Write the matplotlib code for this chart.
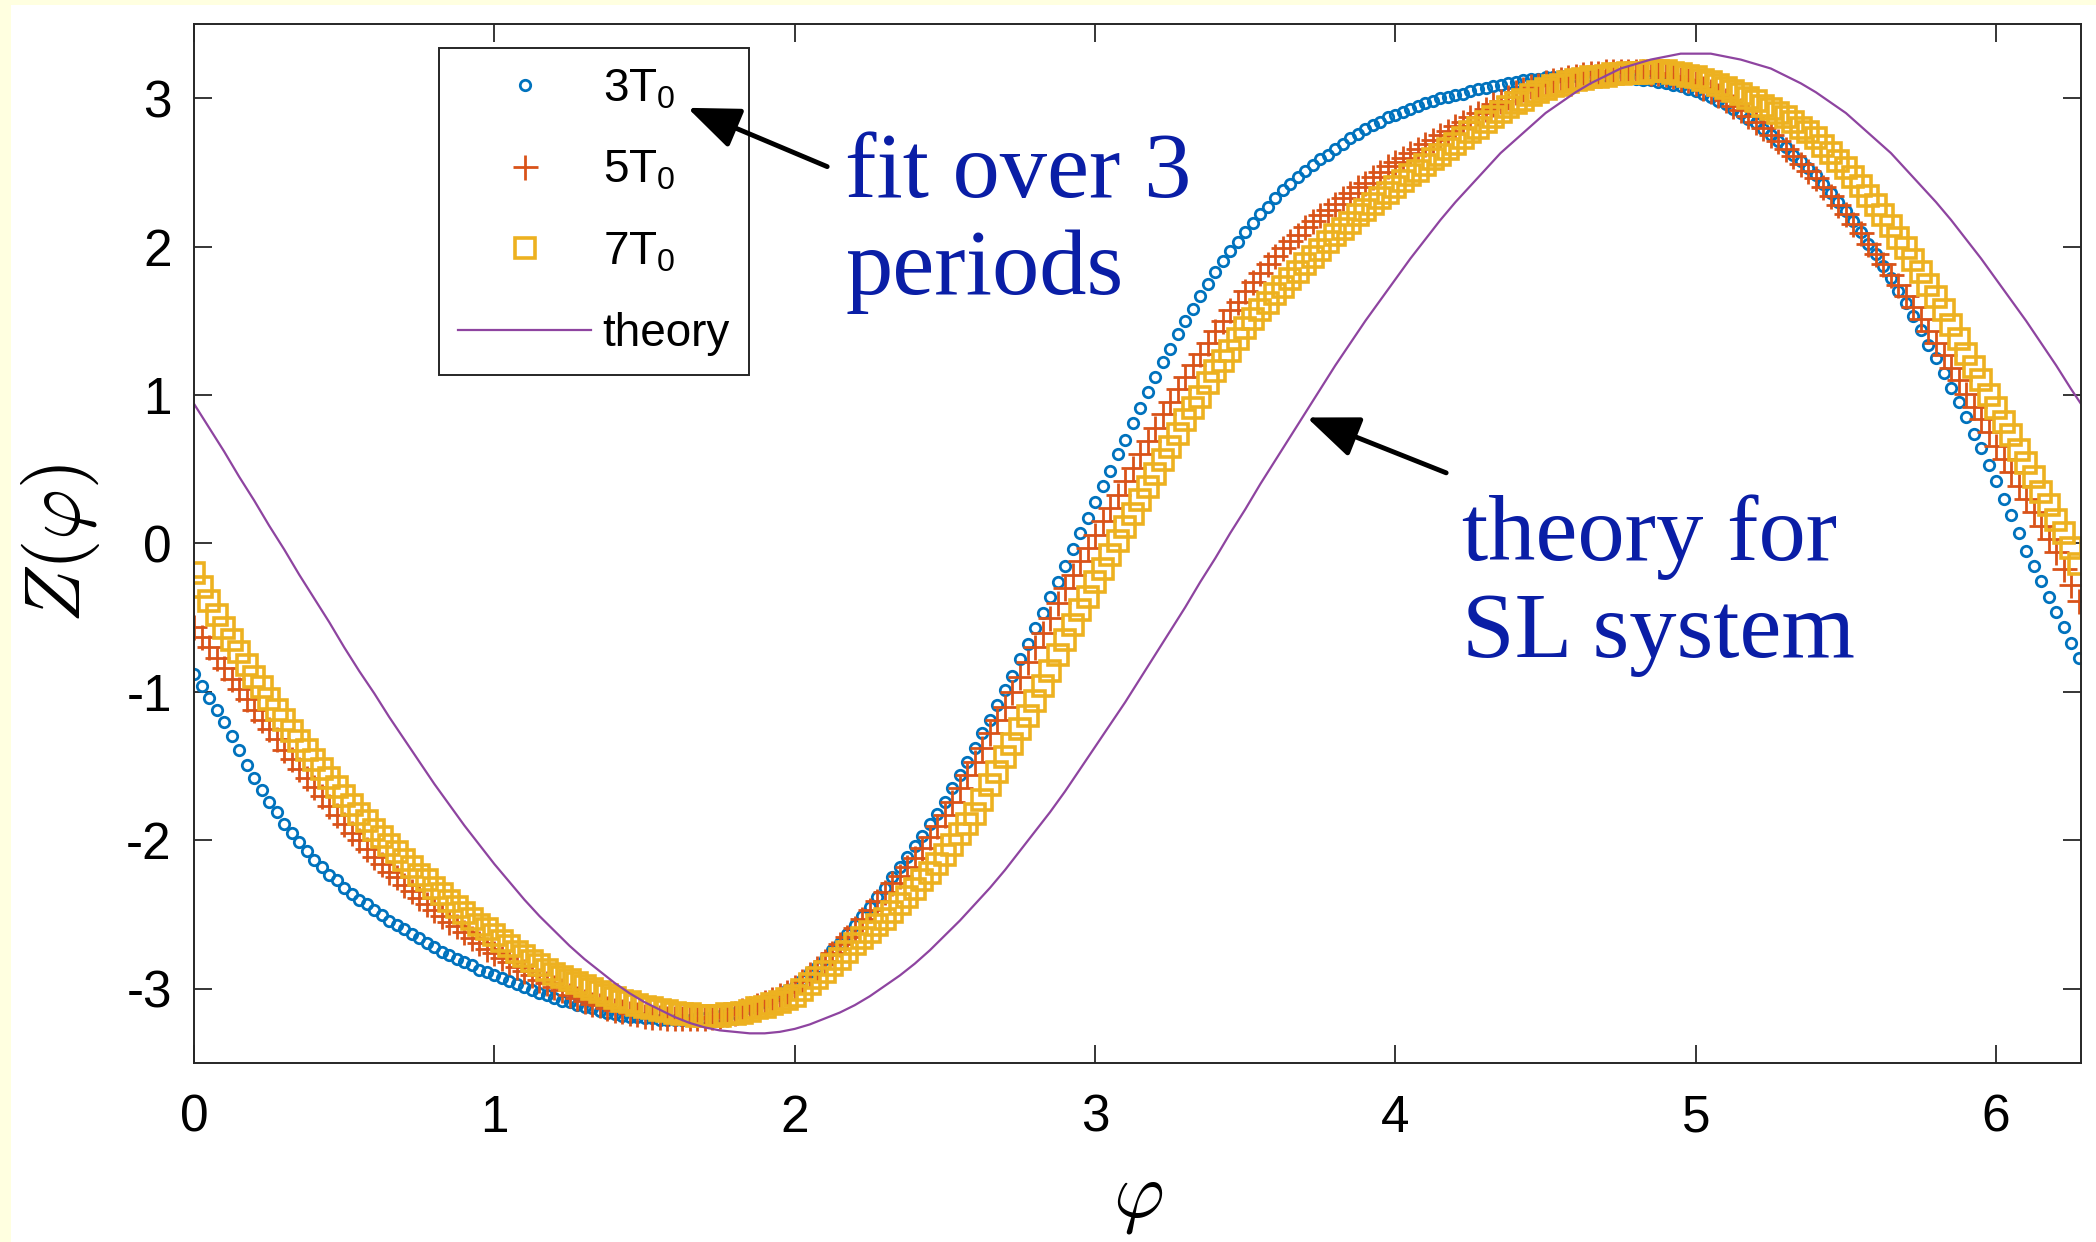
import numpy as np
import matplotlib
matplotlib.use('Agg')
import matplotlib.pyplot as plt
from matplotlib.patches import Rectangle

plt.rcParams['font.family'] = ['Liberation Sans', 'DejaVu Sans']
plt.rcParams['mathtext.fontset'] = 'cm'
plt.rcParams['axes.unicode_minus'] = False

# phase samples (rad) shared by the three fitted series
phase = [
    0.000, 0.025, 0.050, 0.075, 0.100, 0.125, 0.150, 0.175,
    0.200, 0.225, 0.250, 0.275, 0.300, 0.325, 0.350, 0.375,
    0.400, 0.425, 0.450, 0.475, 0.500, 0.525, 0.550, 0.575,
    0.600, 0.625, 0.650, 0.675, 0.700, 0.725, 0.750, 0.775,
    0.800, 0.825, 0.850, 0.875, 0.900, 0.925, 0.950, 0.975,
    1.000, 1.025, 1.050, 1.075, 1.100, 1.125, 1.150, 1.175,
    1.200, 1.225, 1.250, 1.275, 1.300, 1.325, 1.350, 1.375,
    1.400, 1.425, 1.450, 1.475, 1.500, 1.525, 1.550, 1.575,
    1.600, 1.625, 1.650, 1.675, 1.700, 1.725, 1.750, 1.775,
    1.800, 1.825, 1.850, 1.875, 1.900, 1.925, 1.950, 1.975,
    2.000, 2.025, 2.050, 2.075, 2.100, 2.125, 2.150, 2.175,
    2.200, 2.225, 2.250, 2.275, 2.300, 2.325, 2.350, 2.375,
    2.400, 2.425, 2.450, 2.475, 2.500, 2.525, 2.550, 2.575,
    2.600, 2.625, 2.650, 2.675, 2.700, 2.725, 2.750, 2.775,
    2.800, 2.825, 2.850, 2.875, 2.900, 2.925, 2.950, 2.975,
    3.000, 3.025, 3.050, 3.075, 3.100, 3.125, 3.150, 3.175,
    3.200, 3.225, 3.250, 3.275, 3.300, 3.325, 3.350, 3.375,
    3.400, 3.425, 3.450, 3.475, 3.500, 3.525, 3.550, 3.575,
    3.600, 3.625, 3.650, 3.675, 3.700, 3.725, 3.750, 3.775,
    3.800, 3.825, 3.850, 3.875, 3.900, 3.925, 3.950, 3.975,
    4.000, 4.025, 4.050, 4.075, 4.100, 4.125, 4.150, 4.175,
    4.200, 4.225, 4.250, 4.275, 4.300, 4.325, 4.350, 4.375,
    4.400, 4.425, 4.450, 4.475, 4.500, 4.525, 4.550, 4.575,
    4.600, 4.625, 4.650, 4.675, 4.700, 4.725, 4.750, 4.775,
    4.800, 4.825, 4.850, 4.875, 4.900, 4.925, 4.950, 4.975,
    5.000, 5.025, 5.050, 5.075, 5.100, 5.125, 5.150, 5.175,
    5.200, 5.225, 5.250, 5.275, 5.300, 5.325, 5.350, 5.375,
    5.400, 5.425, 5.450, 5.475, 5.500, 5.525, 5.550, 5.575,
    5.600, 5.625, 5.650, 5.675, 5.700, 5.725, 5.750, 5.775,
    5.800, 5.825, 5.850, 5.875, 5.900, 5.925, 5.950, 5.975,
    6.000, 6.025, 6.050, 6.075, 6.100, 6.125, 6.150, 6.175,
    6.200, 6.225, 6.250, 6.275,
]

# fit over 3 periods
z_3t0 = [
    -0.88, -0.96, -1.04, -1.12, -1.20, -1.30, -1.39, -1.49,
    -1.58, -1.66, -1.74, -1.81, -1.89, -1.95, -2.01, -2.07,
    -2.13, -2.18, -2.23, -2.27, -2.32, -2.36, -2.40, -2.43,
    -2.47, -2.50, -2.54, -2.57, -2.60, -2.63, -2.66, -2.69,
    -2.72, -2.75, -2.77, -2.80, -2.82, -2.84, -2.87, -2.89,
    -2.91, -2.93, -2.95, -2.97, -2.99, -3.01, -3.03, -3.04,
    -3.06, -3.08, -3.09, -3.11, -3.12, -3.13, -3.15, -3.16,
    -3.17, -3.18, -3.19, -3.19, -3.20, -3.20, -3.21, -3.21,
    -3.21, -3.21, -3.21, -3.20, -3.20, -3.19, -3.18, -3.17,
    -3.16, -3.14, -3.13, -3.11, -3.09, -3.06, -3.04, -3.01,
    -2.98, -2.94, -2.89, -2.85, -2.80, -2.74, -2.69, -2.63,
    -2.57, -2.51, -2.45, -2.38, -2.32, -2.25, -2.18, -2.11,
    -2.04, -1.97, -1.89, -1.82, -1.74, -1.65, -1.56, -1.47,
    -1.38, -1.28, -1.19, -1.09, -0.99, -0.89, -0.78, -0.68,
    -0.57, -0.47, -0.36, -0.26, -0.15, -0.04, 0.07, 0.17,
    0.28, 0.39, 0.49, 0.60, 0.70, 0.81, 0.91, 1.02,
    1.12, 1.22, 1.31, 1.41, 1.50, 1.58, 1.67, 1.75,
    1.83, 1.90, 1.97, 2.03, 2.10, 2.16, 2.22, 2.27,
    2.33, 2.38, 2.42, 2.47, 2.51, 2.55, 2.59, 2.62,
    2.66, 2.69, 2.73, 2.76, 2.79, 2.82, 2.84, 2.87,
    2.89, 2.91, 2.93, 2.95, 2.97, 2.98, 3.00, 3.01,
    3.02, 3.03, 3.05, 3.06, 3.07, 3.08, 3.09, 3.10,
    3.11, 3.12, 3.13, 3.13, 3.14, 3.14, 3.15, 3.15,
    3.15, 3.15, 3.15, 3.15, 3.15, 3.15, 3.14, 3.14,
    3.13, 3.12, 3.12, 3.11, 3.10, 3.09, 3.08, 3.06,
    3.05, 3.03, 3.01, 2.98, 2.96, 2.93, 2.90, 2.86,
    2.83, 2.79, 2.75, 2.71, 2.67, 2.62, 2.58, 2.53,
    2.48, 2.42, 2.36, 2.30, 2.24, 2.17, 2.10, 2.02,
    1.95, 1.87, 1.79, 1.70, 1.62, 1.53, 1.44, 1.34,
    1.25, 1.15, 1.05, 0.95, 0.85, 0.74, 0.64, 0.53,
    0.42, 0.30, 0.19, 0.07, -0.05, -0.15, -0.25, -0.36,
    -0.46, -0.56, -0.67, -0.77,
]

# fit over 5 periods
z_5t0 = [
    -0.56, -0.63, -0.70, -0.77, -0.84, -0.91, -0.98, -1.05,
    -1.12, -1.19, -1.25, -1.32, -1.39, -1.45, -1.52, -1.58,
    -1.64, -1.70, -1.77, -1.83, -1.89, -1.95, -2.00, -2.06,
    -2.11, -2.16, -2.21, -2.25, -2.30, -2.34, -2.39, -2.43,
    -2.47, -2.51, -2.55, -2.58, -2.62, -2.66, -2.69, -2.73,
    -2.76, -2.79, -2.82, -2.85, -2.88, -2.91, -2.94, -2.96,
    -2.99, -3.01, -3.04, -3.06, -3.08, -3.10, -3.11, -3.13,
    -3.14, -3.15, -3.16, -3.17, -3.18, -3.19, -3.19, -3.20,
    -3.20, -3.20, -3.20, -3.20, -3.20, -3.19, -3.18, -3.17,
    -3.16, -3.14, -3.13, -3.11, -3.09, -3.07, -3.04, -3.02,
    -2.99, -2.95, -2.90, -2.86, -2.81, -2.76, -2.70, -2.65,
    -2.59, -2.53, -2.47, -2.41, -2.35, -2.29, -2.24, -2.18,
    -2.12, -2.05, -1.98, -1.90, -1.83, -1.74, -1.65, -1.56,
    -1.47, -1.38, -1.28, -1.19, -1.10, -1.00, -0.90, -0.80,
    -0.70, -0.60, -0.50, -0.40, -0.30, -0.21, -0.12, -0.03,
    0.06, 0.15, 0.24, 0.33, 0.42, 0.51, 0.60, 0.69,
    0.78, 0.87, 0.95, 1.04, 1.12, 1.20, 1.28, 1.35,
    1.43, 1.50, 1.57, 1.63, 1.70, 1.76, 1.82, 1.88,
    1.94, 1.99, 2.04, 2.08, 2.13, 2.17, 2.21, 2.25,
    2.29, 2.33, 2.36, 2.40, 2.43, 2.47, 2.50, 2.54,
    2.57, 2.60, 2.63, 2.66, 2.69, 2.72, 2.75, 2.78,
    2.81, 2.84, 2.87, 2.90, 2.93, 2.96, 2.98, 3.01,
    3.04, 3.06, 3.08, 3.09, 3.11, 3.12, 3.13, 3.14,
    3.15, 3.16, 3.17, 3.17, 3.18, 3.18, 3.18, 3.18,
    3.18, 3.18, 3.17, 3.17, 3.16, 3.15, 3.13, 3.12,
    3.10, 3.07, 3.05, 3.02, 2.99, 2.95, 2.92, 2.88,
    2.84, 2.80, 2.75, 2.71, 2.66, 2.61, 2.56, 2.51,
    2.46, 2.40, 2.34, 2.28, 2.22, 2.15, 2.09, 2.02,
    1.95, 1.88, 1.81, 1.74, 1.67, 1.59, 1.51, 1.43,
    1.35, 1.27, 1.18, 1.10, 1.01, 0.92, 0.84, 0.75,
    0.66, 0.57, 0.48, 0.39, 0.30, 0.21, 0.12, 0.03,
    -0.06, -0.17, -0.28, -0.39,
]

# fit over 7 periods
z_7t0 = [
    -0.20, -0.29, -0.39, -0.48, -0.57, -0.65, -0.73, -0.82,
    -0.90, -0.97, -1.05, -1.12, -1.19, -1.26, -1.33, -1.39,
    -1.46, -1.52, -1.58, -1.64, -1.70, -1.76, -1.82, -1.87,
    -1.93, -1.98, -2.03, -2.08, -2.13, -2.18, -2.23, -2.27,
    -2.32, -2.36, -2.41, -2.45, -2.49, -2.53, -2.57, -2.60,
    -2.64, -2.68, -2.71, -2.75, -2.78, -2.81, -2.84, -2.87,
    -2.90, -2.92, -2.94, -2.96, -2.98, -3.00, -3.02, -3.04,
    -3.06, -3.08, -3.09, -3.11, -3.12, -3.13, -3.14, -3.15,
    -3.16, -3.17, -3.17, -3.18, -3.18, -3.18, -3.18, -3.17,
    -3.17, -3.16, -3.15, -3.13, -3.12, -3.10, -3.09, -3.07,
    -3.05, -3.01, -2.97, -2.93, -2.89, -2.84, -2.80, -2.75,
    -2.70, -2.66, -2.62, -2.57, -2.53, -2.48, -2.43, -2.38,
    -2.33, -2.27, -2.22, -2.16, -2.10, -2.03, -1.96, -1.89,
    -1.82, -1.73, -1.63, -1.54, -1.44, -1.35, -1.25, -1.16,
    -1.06, -0.96, -0.86, -0.75, -0.65, -0.55, -0.45, -0.36,
    -0.26, -0.17, -0.08, 0.02, 0.11, 0.20, 0.29, 0.38,
    0.47, 0.56, 0.65, 0.74, 0.83, 0.91, 0.99, 1.08,
    1.16, 1.23, 1.30, 1.38, 1.45, 1.51, 1.57, 1.62,
    1.68, 1.73, 1.78, 1.83, 1.88, 1.93, 1.98, 2.03,
    2.08, 2.12, 2.16, 2.21, 2.25, 2.29, 2.33, 2.36,
    2.40, 2.44, 2.48, 2.51, 2.55, 2.59, 2.62, 2.66,
    2.69, 2.73, 2.77, 2.80, 2.84, 2.87, 2.91, 2.94,
    2.97, 2.99, 3.02, 3.04, 3.06, 3.08, 3.09, 3.11,
    3.12, 3.13, 3.14, 3.14, 3.15, 3.16, 3.16, 3.17,
    3.17, 3.17, 3.18, 3.18, 3.18, 3.17, 3.16, 3.15,
    3.14, 3.12, 3.11, 3.09, 3.07, 3.05, 3.03, 3.00,
    2.98, 2.95, 2.93, 2.90, 2.87, 2.84, 2.80, 2.77,
    2.73, 2.68, 2.63, 2.58, 2.53, 2.47, 2.41, 2.34,
    2.28, 2.21, 2.14, 2.06, 1.99, 1.91, 1.83, 1.74,
    1.66, 1.57, 1.47, 1.38, 1.28, 1.19, 1.10, 1.00,
    0.91, 0.82, 0.73, 0.63, 0.54, 0.45, 0.35, 0.26,
    0.16, 0.07, -0.03, -0.14,
]

# theoretical PRC of the Stuart-Landau system
theory_phase = [
    0.00, 0.05, 0.10, 0.15, 0.20, 0.25, 0.30, 0.35, 0.40, 0.45,
    0.50, 0.55, 0.60, 0.65, 0.70, 0.75, 0.80, 0.85, 0.90, 0.95,
    1.00, 1.05, 1.10, 1.15, 1.20, 1.25, 1.30, 1.35, 1.40, 1.45,
    1.50, 1.55, 1.60, 1.65, 1.70, 1.75, 1.80, 1.85, 1.90, 1.95,
    2.00, 2.05, 2.10, 2.15, 2.20, 2.25, 2.30, 2.35, 2.40, 2.45,
    2.50, 2.55, 2.60, 2.65, 2.70, 2.75, 2.80, 2.85, 2.90, 2.95,
    3.00, 3.05, 3.10, 3.15, 3.20, 3.25, 3.30, 3.35, 3.40, 3.45,
    3.50, 3.55, 3.60, 3.65, 3.70, 3.75, 3.80, 3.85, 3.90, 3.95,
    4.00, 4.05, 4.10, 4.15, 4.20, 4.25, 4.30, 4.35, 4.40, 4.45,
    4.50, 4.55, 4.60, 4.65, 4.70, 4.75, 4.80, 4.85, 4.90, 4.95,
    5.00, 5.05, 5.10, 5.15, 5.20, 5.25, 5.30, 5.35, 5.40, 5.45,
    5.50, 5.55, 5.60, 5.65, 5.70, 5.75, 5.80, 5.85, 5.90, 5.95,
    6.00, 6.05, 6.10, 6.15, 6.20, 6.25, 6.283,
]
theory_z = [
    0.94, 0.78, 0.62, 0.45, 0.29, 0.12, -0.04, -0.21, -0.37, -0.53,
    -0.70, -0.86, -1.01, -1.17, -1.32, -1.47, -1.62, -1.76, -1.90, -2.03,
    -2.16, -2.28, -2.40, -2.51, -2.61, -2.71, -2.80, -2.88, -2.96, -3.03,
    -3.09, -3.14, -3.19, -3.23, -3.26, -3.28, -3.29, -3.30, -3.30, -3.29,
    -3.27, -3.24, -3.20, -3.16, -3.11, -3.05, -2.98, -2.91, -2.83, -2.74,
    -2.64, -2.54, -2.43, -2.32, -2.20, -2.07, -1.94, -1.81, -1.67, -1.52,
    -1.37, -1.22, -1.07, -0.91, -0.75, -0.59, -0.43, -0.26, -0.10, 0.07,
    0.23, 0.40, 0.56, 0.72, 0.88, 1.04, 1.20, 1.35, 1.50, 1.64,
    1.78, 1.92, 2.05, 2.18, 2.30, 2.41, 2.52, 2.63, 2.72, 2.81,
    2.90, 2.97, 3.04, 3.10, 3.15, 3.20, 3.23, 3.26, 3.28, 3.30,
    3.30, 3.30, 3.28, 3.26, 3.23, 3.20, 3.15, 3.10, 3.04, 2.97,
    2.90, 2.81, 2.72, 2.63, 2.52, 2.41, 2.30, 2.18, 2.05, 1.92,
    1.78, 1.64, 1.50, 1.35, 1.20, 1.04, 0.94,
]

series_labels = [r'$\mathregular{3T_0}$', r'$\mathregular{5T_0}$',
                 r'$\mathregular{7T_0}$', 'theory']
xticks = [0, 1, 2, 3, 4, 5, 6]
yticks = [-3, -2, -1, 0, 1, 2, 3]

blue, red, yellow, purple = '#0072BD', '#D95319', '#EDB120', '#8E44A0'
note_color = '#0A1EA6'
axis_grey = '#262626'

fig = plt.figure(figsize=(20.96, 12.42), dpi=100, facecolor='white')
# light yellow slide border on the left and top
fig.add_artist(Rectangle((0, 0), 11 / 2096, 1, transform=fig.transFigure,
                         facecolor='#FFFFE0', edgecolor='none', zorder=-5))
fig.add_artist(Rectangle((0, 1 - 5 / 1242), 1, 5 / 1242, transform=fig.transFigure,
                         facecolor='#FFFFE0', edgecolor='none', zorder=-5))

ax = fig.add_axes([0.0926, 0.1441, 0.9003, 0.8366])

ax.plot(phase, z_3t0, 'o', ms=7.5, mfc='none', mec=blue, mew=2.0, label=series_labels[0])
ax.plot(phase, z_5t0, '+', ms=18, mec=red, mew=2.0, label=series_labels[1])
ax.plot(phase, z_7t0, 's', ms=14, mfc='none', mec=yellow, mew=2.6, label=series_labels[2])
ax.plot(theory_phase, theory_z, '-', color=purple, lw=1.6, label=series_labels[3])

ax.set_xlim(0, 2 * np.pi)
ax.set_ylim(-3.5, 3.5)
ax.set_xticks(xticks)
ax.set_yticks(yticks)
ax.tick_params(direction='in', length=13, width=1.3, color=axis_grey,
               top=True, right=True, labelsize=37, labelcolor='black')
ax.tick_params(axis='x', pad=22)
ax.tick_params(axis='y', pad=16)
for sp in ax.spines.values():
    sp.set_color(axis_grey)
    sp.set_linewidth(1.4)

ax.set_xlabel(r'$\varphi$', fontsize=56, va='center')
ax.xaxis.set_label_coords(0.5, -0.131)
ax.set_ylabel(r'$Z(\varphi)$', fontsize=56, va='center')
ax.yaxis.set_label_coords(-0.071, 0.5)

leg = ax.legend(loc='upper left', bbox_to_anchor=(0.1298, 0.9769), fontsize=33,
                frameon=True, fancybox=False, framealpha=1, edgecolor=axis_grey,
                borderaxespad=0, borderpad=0.42, labelspacing=0.82,
                handlelength=2.9, handletextpad=0.25)
leg.get_frame().set_linewidth(1.4)

# annotations (y is the baseline of the second line)
ax.text(2.168, 1.680, 'fit over 3\nperiods', fontsize=68, family='Liberation Serif',
        color=note_color, ha='left', va='baseline', linespacing=1.18)
ax.text(4.223, -0.762, 'theory for\nSL system', fontsize=68, family='Liberation Serif',
        color=note_color, ha='left', va='baseline', linespacing=1.18)

arrow = dict(arrowstyle='-|>,head_length=0.8,head_width=0.32', mutation_scale=40,
             lw=3.5, color='black', shrinkA=0, shrinkB=0)
ax.annotate('', xy=(1.643, 2.935), xytext=(2.108, 2.539), arrowprops=arrow, zorder=10)
ax.annotate('', xy=(3.705, 0.849), xytext=(4.169, 0.476), arrowprops=arrow, zorder=10)

fig.savefig('out.png', dpi=100, facecolor=fig.get_facecolor())
